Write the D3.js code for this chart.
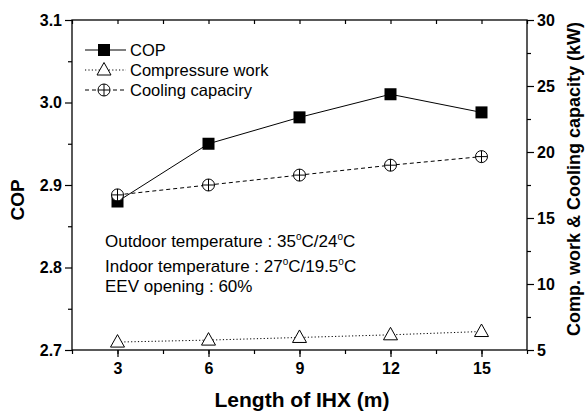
<!DOCTYPE html>
<html>
<head>
<meta charset="utf-8">
<script src="https://cdn.jsdelivr.net/npm/d3@7"></script>
<style>
  body { margin: 0; background: #fff; }
  text { font-family: "Liberation Sans", Arial, sans-serif; }
</style>
</head>
<body>
<div id="chart"></div>
<script>
// data
const lengths = [3, 6, 9, 12, 15];
const cop = [2.88, 2.95, 2.982, 3.01, 2.988];
const compWork = [5.6, 5.75, 5.95, 6.15, 6.4];
const coolingCap = [16.75, 17.5, 18.25, 19.0, 19.65];
const xTicks = [3, 6, 9, 12, 15];
const copTicks = [2.7, 2.8, 2.9, 3.0, 3.1];
const kwTicks = [5, 10, 15, 20, 25, 30];
const notes = [
  ["Outdoor temperature : 35", "C/24", "C"],
  ["Indoor temperature : 27", "C/19.5", "C"],
  ["EEV opening : 60%"]
];

function init() {
  const W = 585, H = 412;
  const margin = { top: 20, right: 58, bottom: 62, left: 72 },
    w = W - margin.left - margin.right,
    h = H - margin.top - margin.bottom;

  const svg = d3.select("#chart").append("svg")
    .attr("width", W).attr("height", H);
  const g = svg.append("g")
    .attr("transform", `translate(${margin.left},${margin.top})`);

  const x = d3.scaleLinear().domain([1.5, 16.5]).range([0, w]);
  const yL = d3.scaleLinear().domain([2.7, 3.1]).range([h, 0]);
  const yR = d3.scaleLinear().domain([5, 30]).range([h, 0]);

  // frame
  g.append("rect").attr("width", w).attr("height", h)
    .attr("fill", "none").attr("stroke", "#000").attr("stroke-width", 1.3);

  const styleAxis = sel => {
    sel.select(".domain").remove();
    sel.selectAll("line").attr("stroke", "#000").attr("stroke-width", 1.2);
    sel.selectAll("text").style("font-size", "16px").style("font-weight", "bold")
      .attr("fill", "#000");
  };

  // minor ticks
  const xMinor = d3.range(1.5, 16.6, 1.5);
  g.append("g").attr("transform", `translate(0,${h})`)
    .call(d3.axisBottom(x).tickValues(xMinor).tickSize(4).tickFormat(""))
    .call(styleAxis);
  g.append("g")
    .call(d3.axisBottom(x).tickValues(xMinor).tickSize(4).tickFormat(""))
    .call(styleAxis);
  g.append("g")
    .call(d3.axisLeft(yL).tickValues(d3.range(2.75, 3.1, 0.1)).tickSize(4).tickFormat(""))
    .call(styleAxis);
  g.append("g").attr("transform", `translate(${w},0)`)
    .call(d3.axisRight(yR).tickValues(d3.range(7.5, 30, 5)).tickSize(4).tickFormat(""))
    .call(styleAxis);

  // major axes
  g.append("g").attr("transform", `translate(0,${h})`)
    .call(d3.axisBottom(x).tickValues(xTicks).tickSize(7).tickPadding(6))
    .call(styleAxis);
  g.append("g")
    .call(d3.axisLeft(yL).tickValues(copTicks).tickSize(7).tickPadding(3)
      .tickFormat(d3.format(".1f")))
    .call(styleAxis);
  g.append("g").attr("transform", `translate(${w},0)`)
    .call(d3.axisRight(yR).tickValues(kwTicks).tickSize(7).tickPadding(3))
    .call(styleAxis);

  // axis titles
  svg.append("text").attr("x", 302).attr("y", 407)
    .attr("text-anchor", "middle").style("font-size", "21px").style("font-weight", "bold")
    .text("Length of IHX (m)");
  svg.append("text").attr("transform", "translate(24,200) rotate(-90)")
    .attr("text-anchor", "middle").style("font-size", "19px").style("font-weight", "bold")
    .text("COP");
  svg.append("text").attr("transform", "translate(580,179) rotate(-90)")
    .attr("text-anchor", "middle").style("font-size", "18px").style("font-weight", "bold")
    .text("Comp. work & Cooling capacity (kW)");

  // markers
  const square = (sel) => sel.append("rect").attr("x", -6).attr("y", -6)
    .attr("width", 12).attr("height", 12).attr("fill", "#000");
  const triangle = (sel) => sel.append("path").attr("d", "M0,-7.5L7,5L-7,5Z")
    .attr("fill", "#fff").attr("stroke", "#000").attr("stroke-width", 1);
  const crossCircle = (sel) => {
    sel.append("circle").attr("r", 6).attr("fill", "#fff").attr("stroke", "#000").attr("stroke-width", 1);
    sel.append("path").attr("d", "M-6,0H6M0,-6V6").attr("stroke", "#000").attr("stroke-width", 1);
  };

  const series = [
    { name: "COP", vals: cop, y: yL, dash: null, marker: square },
    { name: "Compressure work", vals: compWork, y: yR, dash: "1.2,2.2", marker: triangle },
    { name: "Cooling capaciry", vals: coolingCap, y: yR, dash: "4,3", marker: crossCircle }
  ];

  series.forEach(s => {
    const pts = lengths.map((l, i) => [l, s.vals[i]]);
    g.append("path").datum(pts)
      .attr("fill", "none").attr("stroke", "#000").attr("stroke-width", 1)
      .attr("stroke-dasharray", s.dash)
      .attr("d", d3.line().x(d => x(d[0])).y(d => s.y(d[1])));
    g.selectAll(null).data(pts).enter().append("g")
      .attr("transform", d => `translate(${x(d[0])},${s.y(d[1])})`)
      .each(function () { s.marker(d3.select(this)); });
  });

  // legend
  const legend = svg.append("g").attr("transform", "translate(85,50)");
  series.forEach((s, i) => {
    const row = legend.append("g").attr("transform", `translate(0,${i * 20})`);
    row.append("line").attr("x1", 0).attr("x2", 41).attr("stroke", "#000")
      .attr("stroke-width", 1).attr("stroke-dasharray", s.dash);
    const m = row.append("g").attr("transform", "translate(19,0)");
    s.marker(m);
    row.append("text").attr("x", 45).attr("y", 6).style("font-size", "16.5px").text(s.name);
  });

  // notes
  const noteY = [247, 272, 292];
  const nt = svg.append("g").attr("transform", "translate(105,0)");
  notes.forEach((parts, i) => {
    const t = nt.append("text").attr("y", noteY[i]).style("font-size", "17px");
    parts.forEach((p, j) => {
      if (j > 0) t.append("tspan").attr("dy", -7).style("font-size", "10px").text("o");
      t.append("tspan").attr("dy", j > 0 ? 7 : 0).text(p);
    });
  });
}

window.onload = init;
</script>
</body>
</html>
